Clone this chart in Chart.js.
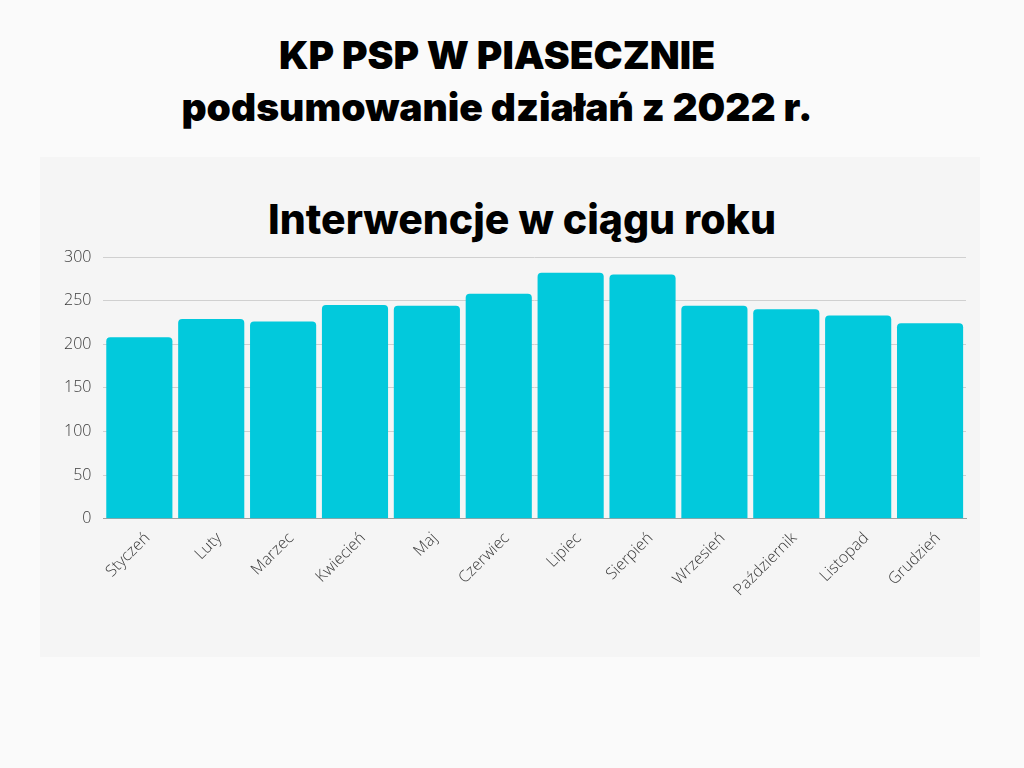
<!DOCTYPE html>
<html lang="pl">
<head>
<meta charset="utf-8">
<title>Interwencje w ciągu roku</title>
<script src="https://cdn.jsdelivr.net/npm/chart.js@4"></script>
<style>
  html, body { margin: 0; padding: 0; background: #fafafa; }
  body { width: 1024px; height: 768px; position: relative; overflow: hidden; }
  h1 {
    position: absolute; left: 0; top: 29px; width: 994px; margin: 0;
    text-align: center; font-family: "Inter", sans-serif; font-weight: 900;
    font-size: 39px; line-height: 52px; color: #000;
  }
  #panel { position: absolute; left: 40px; top: 157px; width: 940px; height: 500px; background: #f5f5f5; }
  #panel h2 {
    position: absolute; left: 0; top: 37px; width: 964px; margin: 0;
    text-align: center; font-family: "Inter", sans-serif; font-weight: 800;
    font-size: 41px; line-height: 50px; color: #000;
  }
  #wrap { position: absolute; left: 0; top: 0; width: 940px; height: 500px; }
</style>
</head>
<body>
<h1>KP PSP W PIASECZNIE<br>podsumowanie działań z 2022 r.</h1>
<div id="panel">
  <h2>Interwencje w ciągu roku</h2>
  <div id="wrap"><canvas id="grafico"></canvas></div>
</div>
<script>
// dane
const miesiace = ["Styczeń", "Luty", "Marzec", "Kwiecień", "Maj", "Czerwiec", "Lipiec", "Sierpień", "Wrzesień", "Październik", "Listopad", "Grudzień"];
const interwencje = [208, 229, 226, 245, 244, 258, 282, 280, 244, 240, 233, 224];
const tickiY = [0, 50, 100, 150, 200, 250, 300];

const ctx = document.getElementById("grafico").getContext("2d");
const grafico = new Chart(ctx, {
  type: "bar",
  data: {
    labels: miesiace,
    datasets: [{
      label: "Interwencje",
      data: interwencje,
      backgroundColor: "#02c9dc",
      borderRadius: { topLeft: 4, topRight: 4 },
      borderSkipped: "bottom",
      barPercentage: 0.92,
      categoryPercentage: 1.0
    }]
  },
  options: {
    responsive: true,
    maintainAspectRatio: false,
    animation: false,
    // miejsce na tytuł (h2) nad wykresem
    layout: { padding: { left: 12, right: 14, top: 100, bottom: 55 } },
    plugins: {
      legend: { display: false },
      tooltip: { enabled: false },
      title: { display: false }
    },
    scales: {
      x: {
        grid: { display: false },
        border: { display: true, color: "#a0a0a0" },
        ticks: {
          color: "#3a3a3a",
          font: { family: "Open Sans", size: 16, weight: "300" },
          maxRotation: 45,
          minRotation: 45,
          labelOffset: 8,
          padding: 2
        }
      },
      y: {
        min: 0,
        max: 300,
        afterBuildTicks: (axis) => { axis.ticks = tickiY.map(v => ({ value: v })); },
        grid: { color: "#d0d0d0", drawTicks: false },
        border: { display: false },
        ticks: {
          color: "#3a3a3a",
          font: { family: "Open Sans", size: 16, weight: "300" },
          padding: 12
        }
      }
    }
  }
});
</script>
</body>
</html>
